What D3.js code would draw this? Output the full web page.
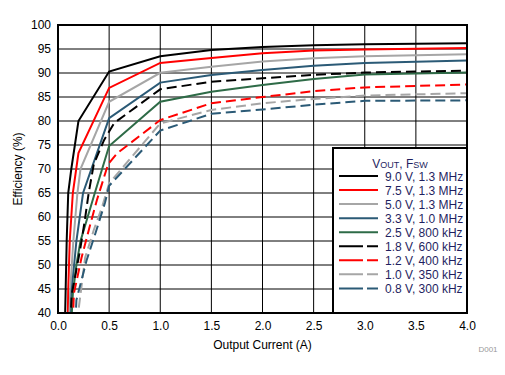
<!DOCTYPE html>
<html>
<head>
<meta charset="utf-8">
<script src="https://cdn.jsdelivr.net/npm/d3@7"></script>
<style>
  body { margin: 0; background: #fff; }
  text { font-family: "Liberation Sans", Arial, sans-serif; }
</style>
</head>
<body>
<div id="chart"></div>
<script>
'use strict';

// series labels, colours and dash style
var seriesNames = ['9.0 V, 1.3 MHz', '7.5 V, 1.3 MHz', '5.0 V, 1.3 MHz', '3.3 V, 1.0 MHz', '2.5 V, 800 kHz',
                   '1.8 V, 600 kHz', '1.2 V, 400 kHz', '1.0 V, 350 kHz', '0.8 V, 300 kHz'];
var seriesColors = ['#000000', '#ff0000', '#a6a6a6', '#2b5a76', '#2e6b47',
                    '#000000', '#ff0000', '#a6a6a6', '#2b5a76'];
var seriesDashed = [false, false, false, false, false, true, true, true, true];

// [output current (A), efficiency (%)]
var eff9v0 = [[0.068,38],[0.075,45],[0.085,55],[0.1,65],[0.13,70],[0.2,80],[0.5,90.3],[1.0,93.5],[1.5,94.8],[2.0,95.4],[2.5,95.8],[3.0,96.0],[4.0,96.2]];
var eff7v5 = [[0.095,38],[0.1,45],[0.115,55],[0.145,65],[0.2,73.3],[0.5,86.9],[1.0,92.1],[1.5,93.1],[2.0,94.1],[2.5,94.7],[3.0,94.9],[4.0,95.2]];
var eff5v0 = [[0.11,38],[0.12,45],[0.15,55],[0.19,65],[0.22,70],[0.5,84.0],[1.0,90.05],[1.5,91.3],[2.0,92.4],[2.5,93.05],[3.0,93.5],[4.0,93.9]];
var eff3v3 = [[0.125,38],[0.135,45],[0.18,55],[0.245,65],[0.5,80.6],[1.0,88.0],[1.5,89.6],[2.0,90.6],[2.5,91.5],[3.0,92.1],[4.0,92.6]];
var eff2v5 = [[0.135,40],[0.145,44],[0.18,50],[0.22,55],[0.36,65],[0.5,74.8],[1.0,84.0],[1.5,86.1],[2.0,87.5],[2.5,88.75],[3.0,89.7],[4.0,90.1]];
var eff1v8 = [[0.12,38],[0.135,44],[0.18,49],[0.215,53],[0.26,59],[0.3,65],[0.35,71],[0.45,76],[0.55,79.6],[1.0,86.6],[1.5,88.2],[2.0,88.9],[2.5,89.6],[3.0,90.1],[4.0,90.5]];
var eff1v2 = [[0.145,38],[0.155,44],[0.23,51.5],[0.31,58],[0.38,63.5],[0.49,71],[0.58,73.3],[1.0,80.2],[1.5,83.7],[2.0,85.0],[2.5,86.2],[3.0,87.0],[4.0,87.6]];
var eff1v0 = [[0.19,38],[0.2,40.5],[0.265,51.5],[0.35,57.3],[0.43,62],[0.5,67],[1.0,79.5],[1.5,82.3],[2.0,83.7],[2.5,84.6],[3.0,85.3],[4.0,85.8]];
var eff0v8 = [[0.17,38],[0.18,42.7],[0.28,51],[0.36,56.2],[0.46,63],[0.5,66.5],[1.0,78.0],[1.5,81.5],[2.0,82.4],[2.5,83.4],[3.0,84.2],[4.0,84.3]];
var seriesValues = [eff9v0, eff7v5, eff5v0, eff3v3, eff2v5, eff1v8, eff1v2, eff1v0, eff0v8];

// tick labels
var xTicks = [0, 0.5, 1, 1.5, 2, 2.5, 3, 3.5, 4];
var yTicks = [40, 45, 50, 55, 60, 65, 70, 75, 80, 85, 90, 95, 100];

var W = 505, H = 375;
var margins = {top: 25, bottom: 62, left: 58, right: 38};
var cw = W - margins.left - margins.right;
var ch = H - margins.top - margins.bottom;

var svg = d3.select('#chart').append('svg')
    .attr('width', W)
    .attr('height', H);

var xScale = d3.scaleLinear().domain([0, 4]).range([0, cw]);
var yScale = d3.scaleLinear().domain([40, 100]).range([ch, 0]);

var chart = svg.append('g')
    .attr('transform', 'translate(' + margins.left + ',' + margins.top + ')');

chart.append('clipPath').attr('id', 'plotclip')
    .append('rect').attr('width', cw).attr('height', ch);

// grid
chart.append('g').selectAll('line.gx')
    .data(xTicks.slice(1, -1))
    .enter().append('line')
    .attr('x1', function(d){ return xScale(d); })
    .attr('x2', function(d){ return xScale(d); })
    .attr('y1', 0).attr('y2', ch)
    .style('stroke', '#000').style('stroke-width', 1);

chart.append('g').selectAll('line.gy')
    .data(yTicks.slice(1, -1))
    .enter().append('line')
    .attr('y1', function(d){ return yScale(d); })
    .attr('y2', function(d){ return yScale(d); })
    .attr('x1', 0).attr('x2', cw)
    .style('stroke', '#000').style('stroke-width', 1);

// curves
var line = d3.line()
    .x(function(d){ return xScale(d[0]); })
    .y(function(d){ return yScale(d[1]); });

chart.append('g').attr('clip-path', 'url(#plotclip)')
    .selectAll('path')
    .data(seriesValues)
    .enter().append('path')
    .attr('d', function(d){ return line(d); })
    .style('fill', 'none')
    .style('stroke', function(d, i){ return seriesColors[i]; })
    .style('stroke-width', 2)
    .style('stroke-dasharray', function(d, i){ return seriesDashed[i] ? '10,5' : null; });

// axes (labels only, the frame is drawn separately)
var xAxis = d3.axisBottom(xScale).tickValues(xTicks).tickSize(0).tickPadding(8)
    .tickFormat(d3.format('.1f'));
var yAxis = d3.axisLeft(yScale).tickValues(yTicks).tickSize(0).tickPadding(7);

var xg = chart.append('g').attr('transform', 'translate(0,' + ch + ')').call(xAxis);
var yg = chart.append('g').call(yAxis);
[xg, yg].forEach(function(g){
    g.select('.domain').remove();
    g.selectAll('text').style('font-size', '12px').style('fill', '#000')
        .style('font-family', '"Liberation Sans", Arial, sans-serif');
});

chart.append('rect')
    .attr('width', cw).attr('height', ch)
    .style('fill', 'none').style('stroke', '#000').style('stroke-width', 2);

// axis titles
svg.append('text')
    .attr('x', margins.left + cw / 2)
    .attr('y', 349)
    .style('text-anchor', 'middle')
    .style('font-size', '12px')
    .text('Output Current (A)');

svg.append('text')
    .attr('transform', 'translate(22,' + (margins.top + ch / 2) + ') rotate(-90)')
    .style('text-anchor', 'middle')
    .style('font-size', '12px')
    .text('Efficiency (%)');

svg.append('text')
    .attr('x', 488).attr('y', 352)
    .style('text-anchor', 'middle')
    .style('font-size', '8px')
    .style('fill', '#999')
    .text('D001');

// legend
var lx = 333, ly = 148, lw = 134, lh = ch + margins.top - ly;
var legend = svg.append('g');
legend.append('rect')
    .attr('x', lx).attr('y', ly).attr('width', lw).attr('height', lh)
    .style('fill', '#fff').style('stroke', '#000').style('stroke-width', 2);

var title = legend.append('text')
    .attr('x', 400).attr('y', 168)
    .style('text-anchor', 'middle')
    .style('font-size', '12px')
    .style('fill', '#1f1f5f');
title.append('tspan').text('V');
title.append('tspan').style('font-size', '9px').text('OUT');
title.append('tspan').text(', F');
title.append('tspan').style('font-size', '9px').text('SW');

var rows = legend.selectAll('g.row')
    .data(seriesNames)
    .enter().append('g')
    .attr('transform', function(d, i){ return 'translate(0,' + (176 + i * 14.05) + ')'; });

rows.append('line')
    .attr('x1', 339).attr('x2', 378)
    .attr('y1', 0).attr('y2', 0)
    .style('stroke', function(d, i){ return seriesColors[i]; })
    .style('stroke-width', 2)
    .style('stroke-dasharray', function(d, i){ return seriesDashed[i] ? '24,4,11' : null; });

rows.append('text')
    .attr('x', 385).attr('y', 4.5)
    .style('font-size', '12px')
    .style('fill', '#1f1f5f')
    .text(function(d){ return d; });
</script>
</body>
</html>
